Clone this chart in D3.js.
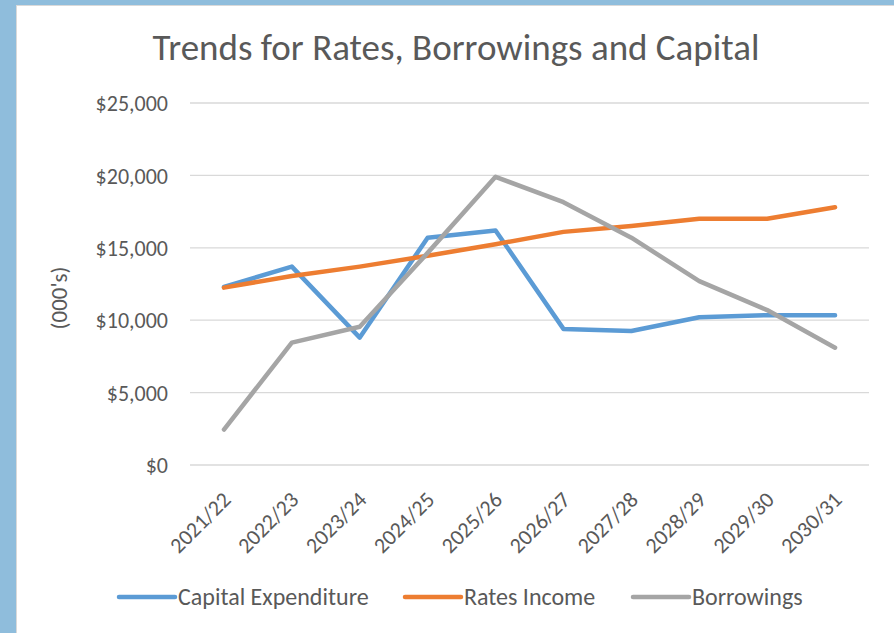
<!DOCTYPE html>
<html>
<head>
<meta charset="utf-8">
<script src="https://cdn.jsdelivr.net/npm/d3@7"></script>
<style>
  body { margin: 0; background: #8fbddc; }
  svg { display: block; }
  text { font-family: Calibri, Carlito, Lato, sans-serif; fill: #595959; }
</style>
</head>
<body>
<div id="chart"></div>
<script>
const years = ['2021/22', '2022/23', '2023/24', '2024/25', '2025/26',
  '2026/27', '2027/28', '2028/29', '2029/30', '2030/31']
const capital = [12300, 13700, 8800, 15700, 16200, 9400, 9250, 10200, 10350, 10350]
const rates = [12250, 13050, 13700, 14450, 15250, 16100, 16500, 17000, 17000, 17800]
const borrowings = [2450, 8450, 9550, 14650, 19900, 18150, 15700, 12700, 10700, 8100]
const yTicks = [0, 5000, 10000, 15000, 20000, 25000]

const seriesList = [
  {name: 'Capital Expenditure', values: capital, color: '#5b9bd5'},
  {name: 'Rates Income', values: rates, color: '#ed7d31'},
  {name: 'Borrowings', values: borrowings, color: '#a5a5a5'}
]

const W = 894, H = 633
const svg = d3.select('#chart').append('svg')
  .attr('width', W).attr('height', H)

// chart area (white panel with blue frame)
svg.append('rect')
  .attr('x', 16.5).attr('y', 5.5)
  .attr('width', W - 16).attr('height', H - 5)
  .attr('fill', '#fff')
  .attr('stroke', '#d9d9d9')

const margin = {top: 103, left: 190, right: 25, bottom: 168}
const x = d3.scaleBand().domain(years).range([margin.left, W - margin.right])
const y = d3.scaleLinear().domain([0, 25000]).range([H - margin.bottom, margin.top])

// gridlines
svg.append('g')
  .selectAll('line')
  .data(yTicks)
  .enter().append('line')
  .attr('x1', margin.left).attr('x2', W - margin.right)
  .attr('y1', d => y(d)).attr('y2', d => y(d))
  .attr('stroke', '#d9d9d9').attr('stroke-width', 1.3)

// y axis labels
const yAxis = svg.append('g')
  .attr('transform', `translate(${margin.left - 20},0)`)
  .call(d3.axisLeft(y).tickValues(yTicks).tickSize(0).tickPadding(2)
    .tickFormat(d => '$' + d3.format(',')(d)))
yAxis.select('.domain').remove()
yAxis.selectAll('text')
  .style('font-size', '22px')
  .attr('fill', '#595959')
  .attr('dy', '0.35em')

// x axis labels
const xAxis = svg.append('g')
  .attr('transform', `translate(0,${y(0)})`)
  .call(d3.axisBottom(x).tickSize(0))
xAxis.select('.domain').remove()
xAxis.selectAll('text')
  .style('font-size', '22px')
  .attr('fill', '#595959')
  .style('text-anchor', 'end')
  .attr('dx', 0).attr('dy', 0)
  .attr('transform', 'translate(6,34) rotate(-45)')

// y axis title
svg.append('text')
  .attr('transform', `translate(67,${(y(0) + y(25000)) / 2 + 14}) rotate(-90)`)
  .style('text-anchor', 'middle')
  .style('font-size', '23px')
  .text("(000's)")

// title
svg.append('text')
  .attr('x', 456).attr('y', 60)
  .style('text-anchor', 'middle')
  .style('font-size', '37px')
  .text('Trends for Rates, Borrowings and Capital')

// lines
const line = d3.line()
  .x((d, i) => x(years[i]) + x.bandwidth() / 2)
  .y(d => y(d))
svg.append('g')
  .selectAll('path')
  .data(seriesList)
  .enter().append('path')
  .attr('d', d => line(d.values))
  .attr('fill', 'none')
  .attr('stroke', d => d.color)
  .attr('stroke-width', 4.5)
  .attr('stroke-linejoin', 'round')
  .attr('stroke-linecap', 'round')

// legend
const legendX = [119, 405, 633]
const legend = svg.append('g')
  .selectAll('g')
  .data(seriesList)
  .enter().append('g')
  .attr('transform', (d, i) => `translate(${legendX[i]},597)`)
legend.append('line')
  .attr('x1', 0).attr('x2', 56)
  .attr('stroke', d => d.color)
  .attr('stroke-width', 4.5)
  .attr('stroke-linecap', 'round')
legend.append('text')
  .attr('x', 59).attr('dy', '0.35em')
  .style('font-size', '24px')
  .text(d => d.name)
</script>
</body>
</html>
